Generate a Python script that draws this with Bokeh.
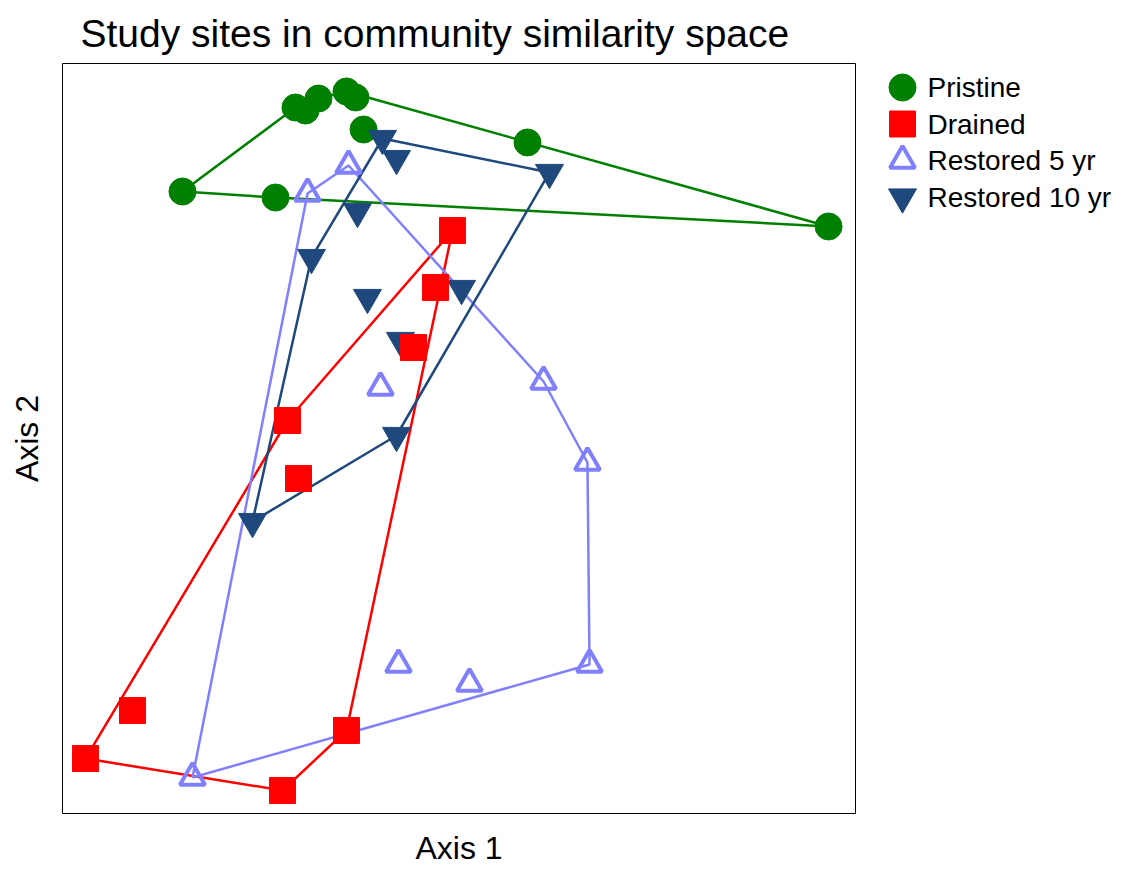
from bokeh.plotting import figure
from bokeh.models import Range1d, FixedTicker
from bokeh.layouts import row
from bokeh.core.properties import value
from bokeh.embed import file_html
from bokeh.resources import INLINE

# Ordination scores (arbitrary units)
pristine_x = [15.13, 26.86, 29.38, 30.64, 32.28, 35.81, 36.95, 37.96, 58.64, 96.60]
pristine_y = [82.93, 82.13, 94.13, 93.73, 95.33, 96.27, 95.47, 91.20, 89.47, 78.27]

drained_x = [49.18, 47.04, 44.26, 28.37, 29.76, 8.83, 2.90, 27.74, 35.81]
drained_y = [77.73, 70.13, 62.13, 52.40, 44.67, 13.73, 7.33, 3.07, 11.07]

rest5_x = [30.90, 36.07, 40.10, 60.66, 66.20, 66.46, 42.37, 51.32, 16.39]
rest5_y = [82.67, 86.40, 56.80, 57.60, 46.80, 19.87, 19.87, 17.33, 4.80]

rest10_x = [40.35, 42.12, 61.41, 37.20, 31.40, 38.46, 50.32, 42.62, 42.12, 23.96]
rest10_y = [90.00, 87.33, 85.47, 80.27, 74.13, 68.80, 70.00, 63.07, 50.40, 38.93]

group_names = ["Pristine", "Drained", "Restored  5 yr", "Restored  10 yr"]

FONT = "Liberation Sans"


def convex_hull(xs, ys):
    pts = sorted(set(zip(xs, ys)))
    if len(pts) <= 2:
        return pts

    def cross(o, a, b):
        return (a[0] - o[0]) * (b[1] - o[1]) - (a[1] - o[1]) * (b[0] - o[0])

    lower = []
    for p_ in pts:
        while len(lower) >= 2 and cross(lower[-2], lower[-1], p_) <= 0:
            lower.pop()
        lower.append(p_)
    upper = []
    for p_ in reversed(pts):
        while len(upper) >= 2 and cross(upper[-2], upper[-1], p_) <= 0:
            upper.pop()
        upper.append(p_)
    hull = lower[:-1] + upper[:-1]
    hull.append(hull[0])
    return hull


p = figure(width=860, height=868, output_backend="svg", toolbar_location=None,
           x_range=Range1d(0, 100), y_range=Range1d(0, 100),
           min_border_left=62, min_border_right=5, min_border_top=63, min_border_bottom=55,
           title="Study sites in community similarity space")

p.title.text_font = FONT
p.title.text_font_size = "39px"
p.title.text_font_style = "normal"
p.title.text_color = "black"
p.title.offset = 18
p.title.standoff = 18

p.outline_line_color = "black"
p.outline_line_width = 1
p.xgrid.visible = False
p.ygrid.visible = False

for ax in (p.xaxis[0], p.yaxis[0]):
    ax.ticker = FixedTicker(ticks=[])
    ax.axis_line_color = None
    ax.major_tick_line_color = None
    ax.minor_tick_line_color = None
    ax.major_label_text_font_size = "0px"
    ax.axis_label_text_font = FONT
    ax.axis_label_text_font_size = "32px"
    ax.axis_label_text_font_style = "normal"
    ax.axis_label_text_color = "black"
p.xaxis.axis_label = "Axis 1"
p.yaxis.axis_label = "Axis 2"
p.xaxis.axis_label_standoff = 16
p.yaxis.axis_label_standoff = 18

groups = [
    (pristine_x, pristine_y, "#008000"),
    (drained_x, drained_y, "#FF0000"),
    (rest5_x, rest5_y, "#8080FF"),
    (rest10_x, rest10_y, "#1F497D"),
]

for xs, ys, col in groups:
    h = convex_hull(xs, ys)
    p.line([q[0] for q in h], [q[1] for q in h], line_color=col, line_width=2.5)

styles = [
    dict(marker="circle", size=27, fill_color="#008000", line_color="#008000", line_width=1),
    dict(marker="square", size=26, fill_color="#FF0000", line_color="#FF0000", line_width=1),
    dict(marker="triangle", size=25, fill_color=None, line_color="#8080FF", line_width=4),
    dict(marker="inverted_triangle", size=28, fill_color="#1F497D", line_color="#1F497D", line_width=1),
]

p.scatter(pristine_x, pristine_y, **styles[0])
p.scatter(rest10_x, rest10_y, **styles[3])
p.scatter(rest5_x, rest5_y, **styles[2])
p.scatter(drained_x, drained_y, **styles[1])

# legend panel (its frame is aligned with the main plot frame by the row layout)
lg = figure(width=255, height=868, output_backend="svg", toolbar_location=None,
            x_range=Range1d(0, 255), y_range=Range1d(750, 0),
            min_border_left=0, min_border_right=0, min_border_top=63, min_border_bottom=55,
            outline_line_color=None)
lg.axis.visible = False
lg.grid.visible = False
row_x, text_x, row_y0, row_dy = 42, 67, 24, 36.5
for i, (name, st) in enumerate(zip(group_names, styles)):
    yy = row_y0 + i * row_dy
    lg.scatter([row_x], [yy], **st)
    lg.text([text_x], [yy], text=[name], text_font=value(FONT), text_font_size="28px",
            text_baseline="middle", text_align="left", text_color="black")

layout = row(p, lg)
open("out.html", "w").write(file_html(layout, INLINE))
